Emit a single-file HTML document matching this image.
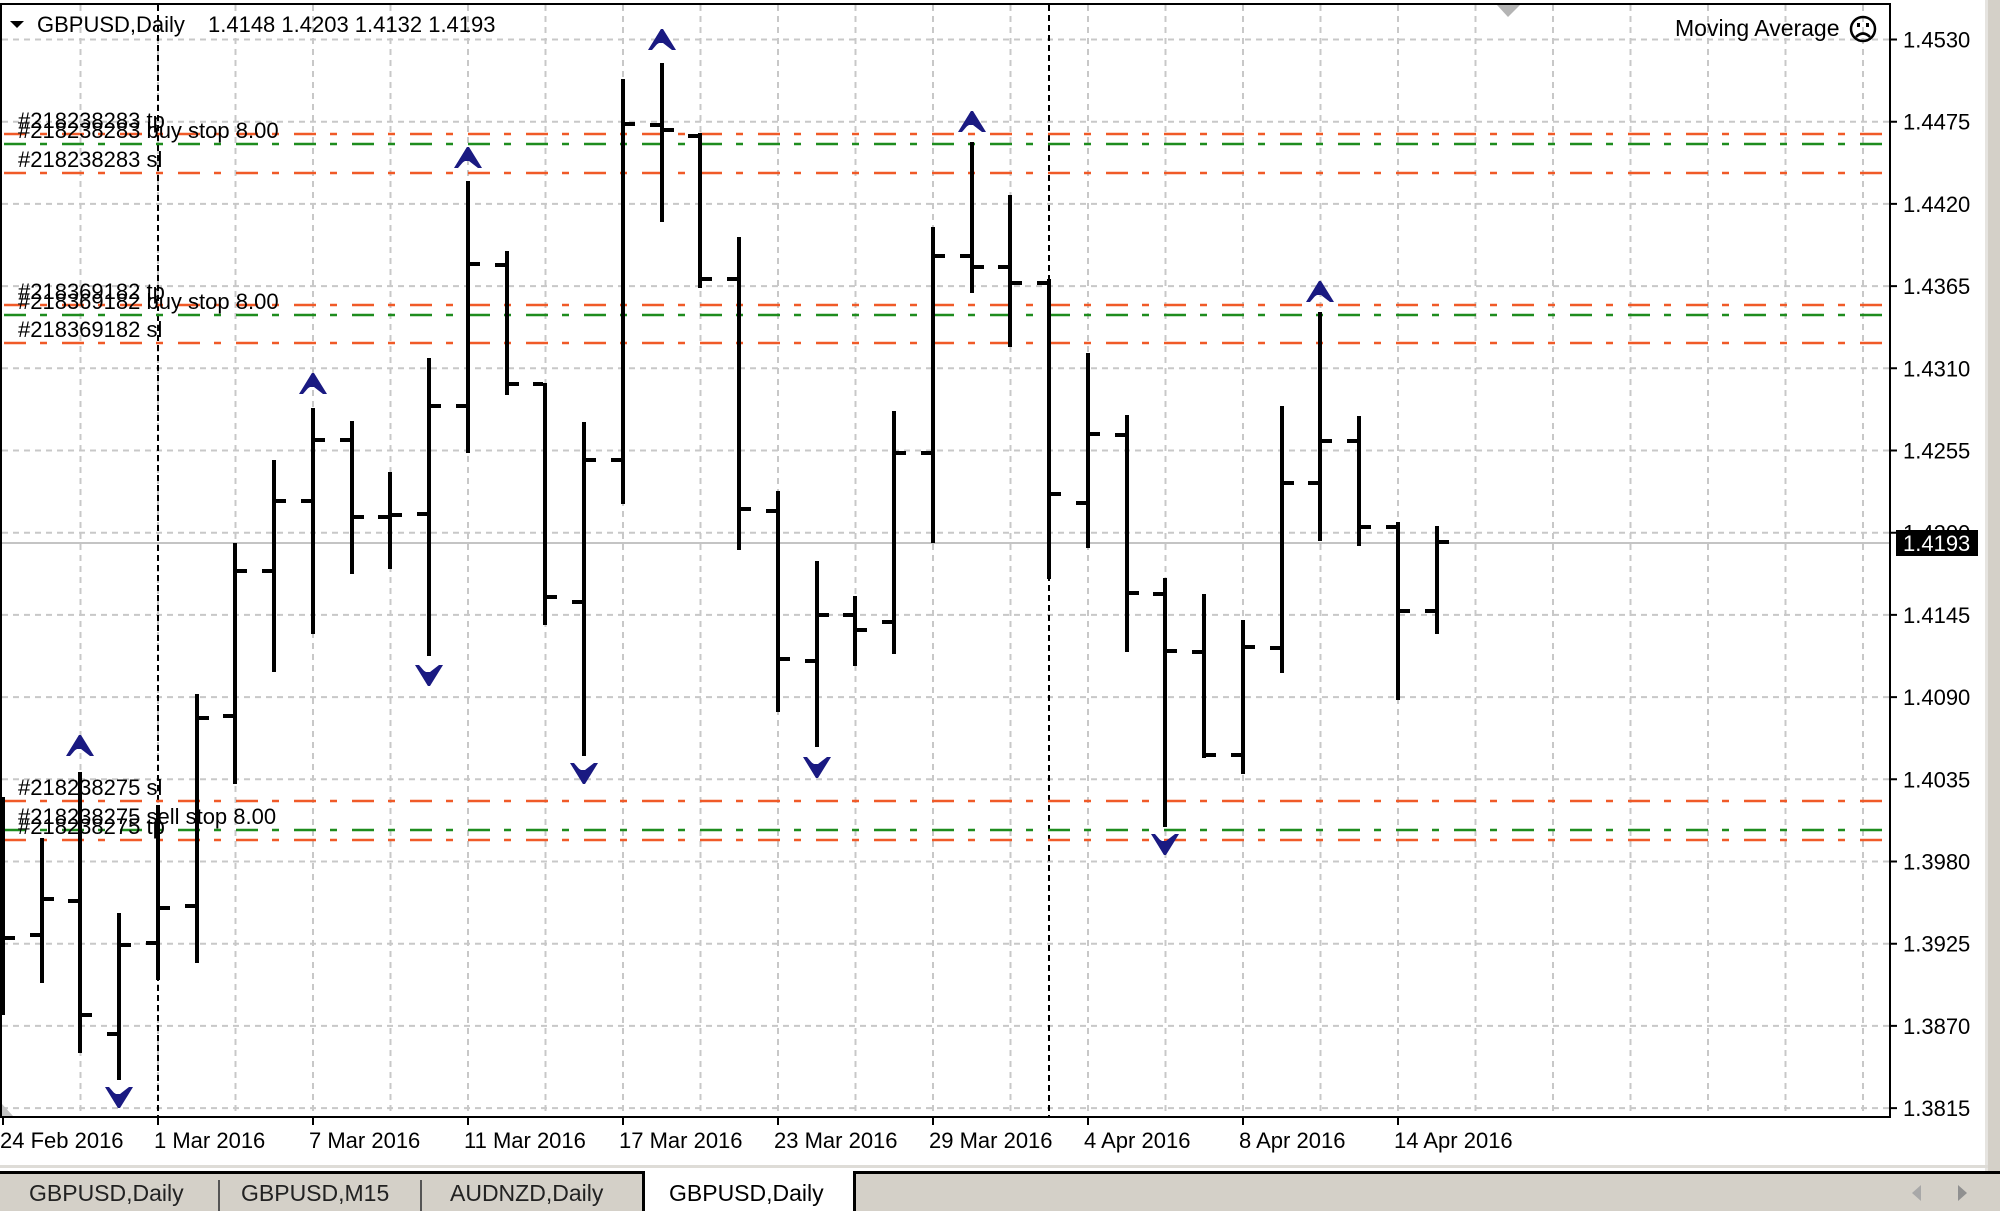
<!DOCTYPE html>
<html>
<head>
<meta charset="utf-8">
<style>
html,body{margin:0;padding:0;background:#fff;}
body{width:2000px;height:1211px;overflow:hidden;}
svg{display:block;}
text{font-family:"Liberation Sans",Arial,sans-serif;}
</style>
</head>
<body>
<svg width="2000" height="1211" viewBox="0 0 2000 1211" xmlns="http://www.w3.org/2000/svg">
<rect x="0" y="0" width="2000" height="1211" fill="#fff"/>

<!-- grid -->
<g stroke="#c8c8c8" stroke-width="2" stroke-dasharray="6 5" fill="none">
<path d="M2 39.5H1889M2 121.7H1889M2 203.9H1889M2 286.1H1889M2 368.3H1889M2 450.5H1889M2 532.7H1889M2 614.9H1889M2 697.1H1889M2 779.3H1889M2 861.5H1889M2 943.7H1889M2 1025.9H1889M2 1108.1H1889"/>
<path d="M80.5 5V1116M158 5V1116M235.5 5V1116M313 5V1116M390.5 5V1116M468 5V1116M545.5 5V1116M623 5V1116M700.5 5V1116M778 5V1116M855.5 5V1116M933 5V1116M1010.5 5V1116M1088 5V1116M1165.5 5V1116M1243 5V1116M1320.5 5V1116M1398 5V1116M1475.5 5V1116M1553 5V1116M1630.5 5V1116M1708 5V1116M1785.5 5V1116M1863 5V1116"/>
</g>

<!-- period separators -->
<g stroke="#000" stroke-width="2" stroke-dasharray="6 4">
<path d="M158 5V1116M1049 5V1116"/>
</g>

<!-- bid line -->
<path d="M2 543H1889" stroke="#c4c4c4" stroke-width="2"/>

<!-- order lines -->
<g stroke-width="2.5" stroke-dasharray="22 14 7 15" fill="none">
<path d="M4 134H1882M4 173H1882M4 305H1882M4 343H1882M4 801H1882M4 840H1882" stroke="#f05a28"/>
<path d="M4 144H1882M4 315H1882M4 830H1882" stroke="#1e8c1e"/>
</g>

<!-- bars -->
<g fill="#000">
<rect x="1" y="797" width="4" height="218"/><rect x="5" y="936" width="10" height="4"/>
<rect x="40" y="838" width="4" height="145"/><rect x="30" y="933" width="10" height="4"/><rect x="44" y="897" width="10" height="4"/>
<rect x="78" y="772" width="4" height="281"/><rect x="68" y="899" width="10" height="4"/><rect x="82" y="1013" width="10" height="4"/>
<rect x="117" y="913" width="4" height="167"/><rect x="107" y="1032" width="10" height="4"/><rect x="121" y="943" width="10" height="4"/>
<rect x="156" y="805" width="4" height="175"/><rect x="146" y="941" width="10" height="4"/><rect x="160" y="906" width="10" height="4"/>
<rect x="195" y="694" width="4" height="269"/><rect x="185" y="904" width="10" height="4"/><rect x="199" y="716" width="10" height="4"/>
<rect x="233" y="543" width="4" height="241"/><rect x="223" y="714" width="10" height="4"/><rect x="237" y="569" width="10" height="4"/>
<rect x="272" y="460" width="4" height="212"/><rect x="262" y="569" width="10" height="4"/><rect x="276" y="499" width="10" height="4"/>
<rect x="311" y="408" width="4" height="226"/><rect x="301" y="499" width="10" height="4"/><rect x="315" y="438" width="10" height="4"/>
<rect x="350" y="421" width="4" height="153"/><rect x="340" y="438" width="10" height="4"/><rect x="354" y="515" width="10" height="4"/>
<rect x="388" y="472" width="4" height="97"/><rect x="378" y="515" width="10" height="4"/><rect x="392" y="513" width="10" height="4"/>
<rect x="427" y="358" width="4" height="298"/><rect x="417" y="512" width="10" height="4"/><rect x="431" y="404" width="10" height="4"/>
<rect x="466" y="181" width="4" height="272"/><rect x="456" y="404" width="10" height="4"/><rect x="470" y="262" width="10" height="4"/>
<rect x="505" y="251" width="4" height="144"/><rect x="495" y="263" width="10" height="4"/><rect x="509" y="382" width="10" height="4"/>
<rect x="543" y="383" width="4" height="242"/><rect x="533" y="382" width="10" height="4"/><rect x="547" y="595" width="10" height="4"/>
<rect x="582" y="422" width="4" height="334"/><rect x="572" y="600" width="10" height="4"/><rect x="586" y="458" width="10" height="4"/>
<rect x="621" y="79" width="4" height="425"/><rect x="611" y="458" width="10" height="4"/><rect x="625" y="122" width="10" height="4"/>
<rect x="660" y="63" width="4" height="159"/><rect x="650" y="123" width="10" height="4"/><rect x="664" y="128" width="10" height="4"/>
<rect x="698" y="133" width="4" height="155"/><rect x="688" y="134" width="10" height="4"/><rect x="702" y="277" width="10" height="4"/>
<rect x="737" y="237" width="4" height="313"/><rect x="727" y="277" width="10" height="4"/><rect x="741" y="507" width="10" height="4"/>
<rect x="776" y="491" width="4" height="221"/><rect x="766" y="509" width="10" height="4"/><rect x="780" y="657" width="10" height="4"/>
<rect x="815" y="561" width="4" height="186"/><rect x="805" y="659" width="10" height="4"/><rect x="819" y="613" width="10" height="4"/>
<rect x="853" y="596" width="4" height="70"/><rect x="843" y="613" width="10" height="4"/><rect x="857" y="628" width="10" height="4"/>
<rect x="892" y="411" width="4" height="243"/><rect x="882" y="620" width="10" height="4"/><rect x="896" y="451" width="10" height="4"/>
<rect x="931" y="227" width="4" height="316"/><rect x="921" y="451" width="10" height="4"/><rect x="935" y="254" width="10" height="4"/>
<rect x="970" y="142" width="4" height="151"/><rect x="960" y="254" width="10" height="4"/><rect x="974" y="265" width="10" height="4"/>
<rect x="1008" y="195" width="4" height="152"/><rect x="998" y="265" width="10" height="4"/><rect x="1012" y="281" width="10" height="4"/>
<rect x="1047" y="279" width="4" height="300"/><rect x="1037" y="281" width="10" height="4"/><rect x="1051" y="492" width="10" height="4"/>
<rect x="1086" y="353" width="4" height="195"/><rect x="1076" y="501" width="10" height="4"/><rect x="1090" y="432" width="10" height="4"/>
<rect x="1125" y="415" width="4" height="237"/><rect x="1115" y="433" width="10" height="4"/><rect x="1129" y="591" width="10" height="4"/>
<rect x="1163" y="578" width="4" height="249"/><rect x="1153" y="592" width="10" height="4"/><rect x="1167" y="649" width="10" height="4"/>
<rect x="1202" y="594" width="4" height="164"/><rect x="1192" y="650" width="10" height="4"/><rect x="1206" y="753" width="10" height="4"/>
<rect x="1241" y="620" width="4" height="154"/><rect x="1231" y="753" width="10" height="4"/><rect x="1245" y="645" width="10" height="4"/>
<rect x="1280" y="406" width="4" height="267"/><rect x="1270" y="646" width="10" height="4"/><rect x="1284" y="481" width="10" height="4"/>
<rect x="1318" y="312" width="4" height="229"/><rect x="1308" y="481" width="10" height="4"/><rect x="1322" y="439" width="10" height="4"/>
<rect x="1357" y="416" width="4" height="130"/><rect x="1347" y="439" width="10" height="4"/><rect x="1361" y="525" width="10" height="4"/>
<rect x="1396" y="522" width="4" height="178"/><rect x="1386" y="525" width="10" height="4"/><rect x="1400" y="609" width="10" height="4"/>
<rect x="1435" y="526" width="4" height="108"/><rect x="1425" y="609" width="10" height="4"/><rect x="1439" y="540" width="10" height="4"/>
</g>

<!-- fractals -->
<defs>
<g id="fup">
<path d="M-1,-11 L1,-11 L14,10 L10,10 L1,3 L-4,3 L-10,10 L-14,10 Z"/>
<path d="M-1,-11 L-13,9 L-3,3 Z"/>
</g>
</defs>
<g fill="#1a1a82">
<use href="#fup" transform="translate(80,746)"/>
<use href="#fup" transform="translate(313,384)"/>
<use href="#fup" transform="translate(468,158)"/>
<use href="#fup" transform="translate(662,40)"/>
<use href="#fup" transform="translate(972,122)"/>
<use href="#fup" transform="translate(1320,292)"/>
<use href="#fup" transform="translate(119,1097) scale(1,-1)"/>
<use href="#fup" transform="translate(429,675) scale(1,-1)"/>
<use href="#fup" transform="translate(584,773) scale(1,-1)"/>
<use href="#fup" transform="translate(817,767) scale(1,-1)"/>
<use href="#fup" transform="translate(1165,844) scale(1,-1)"/>
</g>

<!-- order labels -->
<g font-size="22" fill="#000">
<text x="18" y="128">#218238283 tp</text>
<text x="18" y="138">#218238283 buy stop 8.00</text>
<text x="18" y="167">#218238283 sl</text>
<text x="18" y="299">#218369182 tp</text>
<text x="18" y="309">#218369182 buy stop 8.00</text>
<text x="18" y="337">#218369182 sl</text>
<text x="18" y="795">#218238275 sl</text>
<text x="18" y="824">#218238275 sell stop 8.00</text>
<text x="18" y="834">#218238275 tp</text>
</g>

<!-- title -->
<polygon points="10,21 24,21 17,28" fill="#000"/>
<text x="37" y="32" font-size="22" fill="#000">GBPUSD,Daily</text>
<text x="208" y="32" font-size="22" fill="#000">1.4148 1.4203 1.4132 1.4193</text>

<!-- Moving Average label -->
<text x="1675" y="36" font-size="23" fill="#000">Moving Average</text>
<circle cx="1863" cy="29" r="12" fill="none" stroke="#000" stroke-width="2.5"/>
<rect x="1857" y="23" width="3" height="4" fill="#000"/>
<rect x="1866" y="23" width="3" height="4" fill="#000"/>
<path d="M1856,37 Q1863,30 1870,37" fill="none" stroke="#000" stroke-width="2.5"/>

<!-- chart shift markers -->
<polygon points="1497,5 1520,5 1508,17" fill="#b4b4b4"/>
<polygon points="2,1104 2,1116 13,1116" fill="#c4c4c4"/>

<!-- chart border -->
<rect x="1" y="4" width="1889" height="1113" fill="none" stroke="#000" stroke-width="2"/>

<!-- price axis -->
<g stroke="#000" stroke-width="2">
<path d="M1890 39.5H1897M1890 121.7H1897M1890 203.9H1897M1890 286.1H1897M1890 368.3H1897M1890 450.5H1897M1890 532.7H1897M1890 614.9H1897M1890 697.1H1897M1890 779.3H1897M1890 861.5H1897M1890 943.7H1897M1890 1025.9H1897M1890 1108.1H1897"/>
</g>
<g font-size="22" fill="#000">
<text x="1903" y="47.5">1.4530</text>
<text x="1903" y="129.7">1.4475</text>
<text x="1903" y="211.9">1.4420</text>
<text x="1903" y="294.1">1.4365</text>
<text x="1903" y="376.3">1.4310</text>
<text x="1903" y="458.5">1.4255</text>
<text x="1903" y="540.7">1.4200</text>
<text x="1903" y="622.9">1.4145</text>
<text x="1903" y="705.1">1.4090</text>
<text x="1903" y="787.3">1.4035</text>
<text x="1903" y="869.5">1.3980</text>
<text x="1903" y="951.7">1.3925</text>
<text x="1903" y="1033.9">1.3870</text>
<text x="1903" y="1116.1">1.3815</text>
</g>
<rect x="1896" y="530" width="82" height="26" fill="#000"/>
<text x="1903" y="551" font-size="22" fill="#fff">1.4193</text>

<!-- time axis -->
<g stroke="#000" stroke-width="2">
<path d="M3 1117V1125M158 1117V1125M313 1117V1125M468 1117V1125M623 1117V1125M778 1117V1125M933 1117V1125M1088 1117V1125M1243 1117V1125M1398 1117V1125"/>
</g>
<g font-size="22" fill="#000">
<text x="0" y="1148">24 Feb 2016</text>
<text x="154" y="1148">1 Mar 2016</text>
<text x="309" y="1148">7 Mar 2016</text>
<text x="464" y="1148">11 Mar 2016</text>
<text x="619" y="1148">17 Mar 2016</text>
<text x="774" y="1148">23 Mar 2016</text>
<text x="929" y="1148">29 Mar 2016</text>
<text x="1084" y="1148">4 Apr 2016</text>
<text x="1239" y="1148">8 Apr 2016</text>
<text x="1394" y="1148">14 Apr 2016</text>
</g>

<!-- right window frame -->
<rect x="1985" y="0" width="3" height="1211" fill="#e6e4e0"/>
<rect x="1988" y="0" width="12" height="1211" fill="#d4d0c8"/>

<!-- tab bar -->
<rect x="0" y="1165" width="1988" height="3" fill="#dedcd7"/>
<rect x="0" y="1171" width="2000" height="40" fill="#d4d0c8"/>
<rect x="0" y="1171" width="2000" height="3" fill="#000"/>
<rect x="645" y="1168" width="208" height="43" fill="#fff"/>
<rect x="642" y="1171" width="3" height="40" fill="#000"/>
<rect x="853" y="1171" width="3" height="40" fill="#000"/>
<rect x="218" y="1180" width="2" height="31" fill="#555"/>
<rect x="420" y="1180" width="2" height="31" fill="#555"/>
<g font-size="23" fill="#222">
<text x="29" y="1201">GBPUSD,Daily</text>
<text x="241" y="1201">GBPUSD,M15</text>
<text x="450" y="1201">AUDNZD,Daily</text>
</g>
<text x="669" y="1201" font-size="23" fill="#000">GBPUSD,Daily</text>
<polygon points="1912,1193 1921,1185 1921,1201" fill="#a8a8a8"/>
<polygon points="1958,1185 1958,1201 1967,1193" fill="#909090"/>
</svg>
</body>
</html>
